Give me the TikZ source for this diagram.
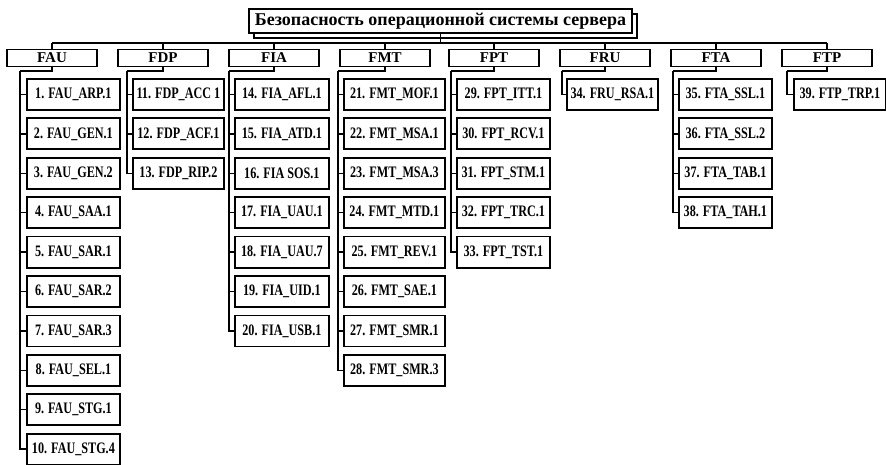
\documentclass[tikz,border=0pt]{standalone}
\usepackage{fontspec}
\setmainfont{Liberation Serif}
\newfontfamily\narrowfont[FakeStretch=0.76]{Liberation Serif}
\usetikzlibrary{positioning, calc, shadows}

\begin{document}
\begin{tikzpicture}[x=1pt, y=-1pt,
	boxline/.style={line width=1.8pt},
	headbox/.style={draw, boxline, fill=white, minimum width=383pt, minimum height=24pt, inner sep=2pt,
		font=\fontsize{18}{18}\selectfont\bfseries,
		general shadow={draw, line width=1.2pt, fill=white, shadow xshift=5pt, shadow yshift=-5pt}},
	groupbox/.style={draw, boxline, minimum width=90pt, minimum height=17pt, inner sep=0pt,
		font=\fontsize{15}{15}\selectfont\bfseries},
	itembox/.style={draw, boxline, anchor=west, minimum height=31pt, inner sep=1pt,
		font=\narrowfont\fontsize{16}{16}\selectfont\bfseries},
	link/.style={line width=1.4pt}]
	\useasboundingbox (0,0) rectangle (886,465);
	\node[headbox] (title) at (440.5,21) {Безопасность операционной системы сервера};
	\coordinate (bus) at (440.5,43);
	\draw[link] (title.south) -- (bus);
	% groups: name / x of box / x of trunk / x of items / width of items / items
	\foreach \g/\gx/\tx/\ix/\iw/\items in {
		FAU/52/20/26/93/{1. FAU\_ARP.1, 2. FAU\_GEN.1, 3. FAU\_GEN.2, 4. FAU\_SAA.1, 5. FAU\_SAR.1,
			6. FAU\_SAR.2, 7. FAU\_SAR.3, 8. FAU\_SEL.1, 9. FAU\_STG.1, 10. FAU\_STG.4},
		FDP/163/127/132/91/{11. FDP\_ACC 1, 12. FDP\_ACF.1, 13. FDP\_RIP.2},
		FIA/274/229/234/94/{14. FIA\_AFL.1, 15. FIA\_ATD.1, 16. FIA SOS.1, 17. FIA\_UAU.1,
			18. FIA\_UAU.7, 19. FIA\_UID.1, 20. FIA\_USB.1},
		FMT/385/338/343/101/{21. FMT\_MOF.1, 22. FMT\_MSA.1, 23. FMT\_MSA.3, 24. FMT\_MTD.1,
			25. FMT\_REV.1, 26. FMT\_SAE.1, 27. FMT\_SMR.1, 28. FMT\_SMR.3},
		FPT/494/451/456/93/{29. FPT\_ITT.1, 30. FPT\_RCV.1, 31. FPT\_STM.1, 32. FPT\_TRC.1, 33. FPT\_TST.1},
		FRU/605/562/566/91/{34. FRU\_RSA.1},
		FTA/716/673/678/93/{35. FTA\_SSL.1, 36. FTA\_SSL.2, 37. FTA\_TAB.1, 38. FTA\_TAH.1},
		FTP/827/787/793/92/{39. FTP\_TRP.1}}{
		\node[groupbox] (g-\g) at (\gx,58) {\g};
		\coordinate (b-\g) at (\gx,43);
		\coordinate (t-\g) at (\tx,71);
		\draw[link] (b-\g) -- (g-\g.north);
		\draw[link] (g-\g.south) |- (t-\g);
		\foreach \it [count=\k] in \items {
			\pgfmathsetmacro{\iy}{94.5+39.4*(\k-1)}
			\node[itembox, minimum width=\iw pt] (i-\g-\k) at (\ix,\iy) {\it};
			\draw[link] (t-\g) |- (i-\g-\k.west);
		}
	}
	\draw[link] (b-FAU) -- (b-FTP);
\end{tikzpicture}
\end{document}
